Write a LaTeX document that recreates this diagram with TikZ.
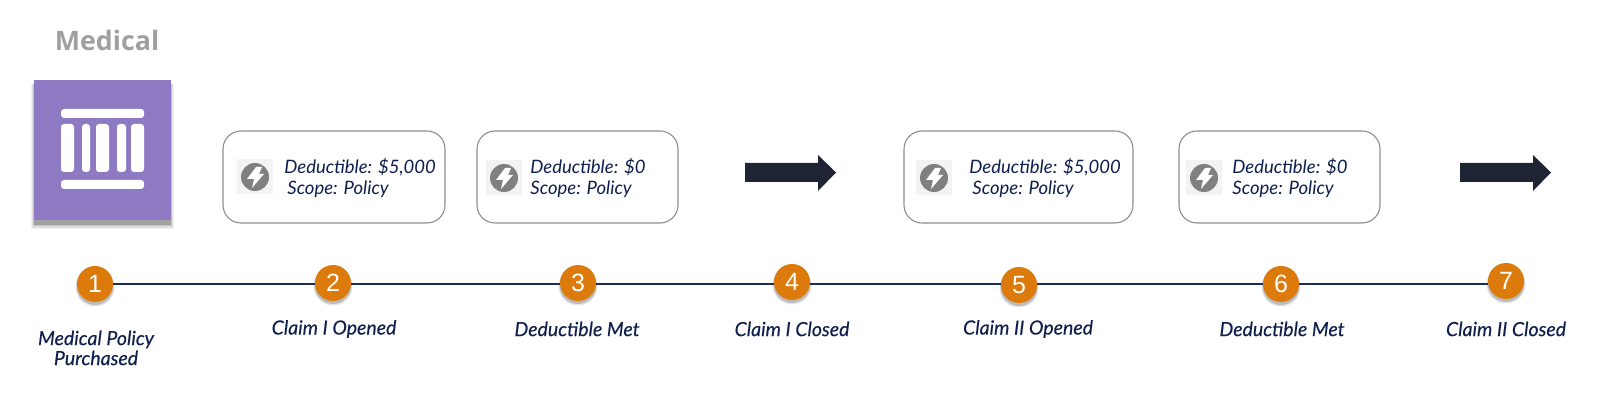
\documentclass[tikz,border=0pt]{standalone}
\usepackage{fontspec}
\setmainfont{Lato}
\newfontfamily\medfont{Open Sans}
\newfontfamily\numfont{Liberation Sans}
\newfontfamily\capfont[ItalicFeatures={FakeBold=0.25}]{Lato}
\definecolor{navy}{HTML}{0F1F4E}
\definecolor{linenavy}{HTML}{1B2F52}
\definecolor{arrowdark}{HTML}{1E2433}
\definecolor{orangec}{HTML}{DC7A0C}
\definecolor{purplec}{HTML}{8D7AC2}
\definecolor{graytitle}{HTML}{A0A0A0}
\definecolor{iconbg}{HTML}{F3F3F4}
\definecolor{icongray}{HTML}{808080}
\definecolor{boxedge}{HTML}{8E8E8E}
\tikzset{
  x=0.5pt,y=-0.5pt,
  stepdot/.style={circle,fill=orangec,minimum size=18pt,inner sep=0pt,text=white,font=\numfont\fontsize{12.5}{12.5}\selectfont},
  stepline/.style={linenavy,line width=0.75pt},
  caption/.style={inner sep=0pt,text=navy,align=center,font=\capfont\itshape\fontsize{9.75}{10}\selectfont},
  infotext/.style={inner sep=0pt,text=navy,anchor=base west,font=\itshape\fontsize{9.25}{10}\selectfont},
  infobox/.style={draw=boxedge,line width=0.55pt,rounded corners=9pt,fill=white},
  bigarrow/.style={fill=arrowdark},
  whitebar/.style={fill=white,rounded corners=1.5pt},
}
\newcommand{\dotshadow}[2]{%
  \fill[black,opacity=0.10] (#1,#2+3) circle[radius=19.5];
  \fill[black,opacity=0.18] (#1,#2+2.5) circle[radius=18.5];
}
\newcommand{\bolticon}[2]{%
  \fill[iconbg] (#1-18,#2-18) rectangle (#1+18,#2+17);
  \fill[icongray] (#1,#2) circle[radius=14];
  \fill[white] (#1+1,#2-10) -- (#1+7,#2-10) -- (#1+4,#2-3) -- (#1+9,#2-3) -- (#1-3,#2+11) -- (#1-1,#2+2) -- (#1-8,#2+2) -- cycle;
}
\begin{document}
\begin{tikzpicture}
\useasboundingbox (0,0) rectangle (1600,416);
% title
\node[anchor=base,inner sep=0pt,text=graytitle,font=\medfont\bfseries\fontsize{13.4}{13.4}\selectfont] (title) at (107,51) {Medical};
% purple card
\foreach \d/\o in {3/0.05,2/0.08,1/0.12,0/0.18}{
  \fill[black,opacity=\o] (34-\d,84) rectangle (171+\d,225+\d*1.5);
}
\fill[purplec] (34,80) rectangle (171,220);
\fill[whitebar] (61,109) rectangle (144,118);
\fill[whitebar] (61,180) rectangle (144,189);
\fill[whitebar] (61,124) rectangle (74,172);
\fill[whitebar] (82,124) rectangle (90,172);
\fill[whitebar] (96,124) rectangle (109,172);
\fill[whitebar] (117,124) rectangle (126,172);
\fill[whitebar] (131,124) rectangle (144,172);
% info boxes
\draw[infobox] (223,131) rectangle (445,223);
\draw[infobox] (477,131) rectangle (678,223);
\draw[infobox] (904,131) rectangle (1133,223);
\draw[infobox] (1179,131) rectangle (1380,223);
\bolticon{255}{177}
\bolticon{504}{178}
\bolticon{934}{178}
\bolticon{1204}{178}
\node[infotext] (t1a) at (284,174) {Deductible: \$5,000};
\node[infotext] (t1b) at (287,195) {Scope: Policy};
\node[infotext] (t2a) at (530,174) {Deductible: \$0};
\node[infotext] (t2b) at (530,195) {Scope: Policy};
\node[infotext] (t3a) at (969,174) {Deductible: \$5,000};
\node[infotext] (t3b) at (972,195) {Scope: Policy};
\node[infotext] (t4a) at (1232,174) {Deductible: \$0};
\node[infotext] (t4b) at (1232,195) {Scope: Policy};
% big arrows
\fill[bigarrow] (745,163) -- (818,163) -- (818,155) -- (836,172.5) -- (818,191) -- (818,182) -- (745,182) -- cycle;
\fill[bigarrow] (1460,163) -- (1533,163) -- (1533,155) -- (1551,172.5) -- (1533,191) -- (1533,182) -- (1460,182) -- cycle;
% timeline
\dotshadow{95}{284}\dotshadow{333}{283}\dotshadow{578}{283}\dotshadow{792}{282}\dotshadow{1019}{285}\dotshadow{1281}{284}\dotshadow{1506}{281}
\node[stepdot] (c1) at (95,284) {1};
\node[stepdot] (c2) at (333,283) {2};
\node[stepdot] (c3) at (578,283) {3};
\node[stepdot] (c4) at (792,282) {4};
\node[stepdot] (c5) at (1019,285) {5};
\node[stepdot] (c6) at (1281,284) {6};
\node[stepdot] (c7) at (1506,281) {7};
\coordinate (j1) at (113,284);
\draw[stepline] (c1.east |- j1) -- (c2.west |- j1);
\draw[stepline] (c2.east |- j1) -- (c3.west |- j1);
\draw[stepline] (c3.east |- j1) -- (c4.west |- j1);
\draw[stepline] (c4.east |- j1) -- (c5.west |- j1);
\draw[stepline] (c5.east |- j1) -- (c6.west |- j1);
\draw[stepline] (c6.east |- j1) -- (c7.west |- j1);
% captions
\node[caption] (l1) at (96,348) {Medical Policy\\[0pt]Purchased};
\node[caption] (l2) at (334,329) {Claim I Opened};
\node[caption] (l3) at (577,329) {Deductible Met};
\node[caption] (l4) at (792,329) {Claim I Closed};
\node[caption] (l5) at (1028,329) {Claim II Opened};
\node[caption] (l6) at (1282,329) {Deductible Met};
\node[caption] (l7) at (1506,329) {Claim II Closed};
\end{tikzpicture}
\end{document}
